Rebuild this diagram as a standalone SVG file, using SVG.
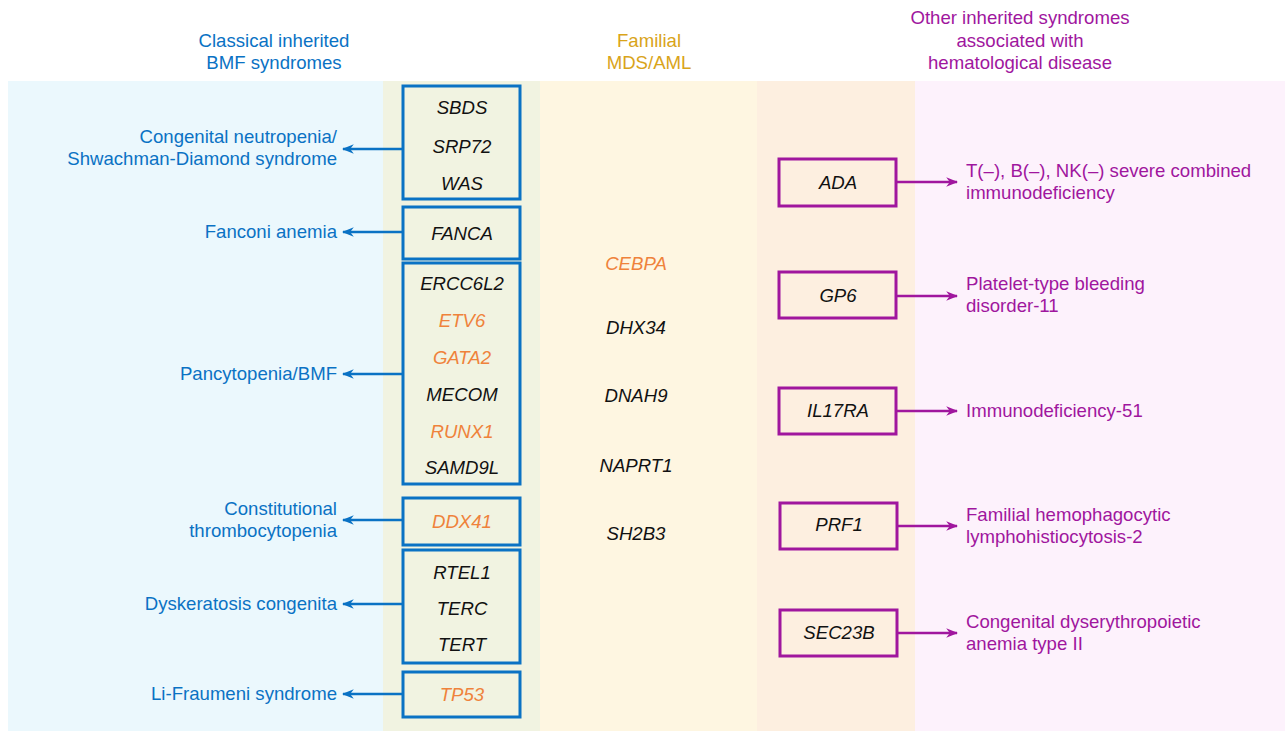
<svg xmlns="http://www.w3.org/2000/svg" width="1285" height="731" viewBox="0 0 1285 731">
<defs>
<style>
text{font-family:"Liberation Sans",Arial,Helvetica,sans-serif;font-size:18.6px}
.h{text-anchor:middle}
.blue{fill:#0a72c4}
.gold{fill:#d9a41a}
.pur{fill:#a0169e}
.gene{font-style:italic;text-anchor:middle;fill:#111}
.or{fill:#ef823b}
.bbox{fill:#f1f3e1;stroke:#0a72c4;stroke-width:3}
.pbox{fill:#fdefe0;stroke:#a0169e;stroke-width:3}
.bl{stroke:#0a72c4;stroke-width:2.5;fill:none}
.pl{stroke:#a0169e;stroke-width:2.5;fill:none}
</style>
<marker id="ab" viewBox="0 0 10 10" refX="9" refY="5" markerWidth="12" markerHeight="12" markerUnits="userSpaceOnUse" orient="auto">
<path d="M0,1 L10,5 L0,9 L3,5 Z" fill="#0a72c4"/>
</marker>
<marker id="ap" viewBox="0 0 10 10" refX="9" refY="5" markerWidth="12" markerHeight="12" markerUnits="userSpaceOnUse" orient="auto">
<path d="M0,1 L10,5 L0,9 L3,5 Z" fill="#a0169e"/>
</marker>
</defs>
<rect width="1285" height="731" fill="#fff"/>
<g id="bands">
<rect x="8" y="81" width="375" height="650" fill="#ebf8fd"/>
<rect x="383" y="81" width="157" height="650" fill="#f1f3e1"/>
<rect x="540" y="81" width="217" height="650" fill="#fef6e1"/>
<rect x="757" y="81" width="158" height="650" fill="#fdefe0"/>
<rect x="915" y="81" width="370" height="650" fill="#fdf2fc"/>
</g>
<g id="headers">
<text class="h blue" x="274" y="47">Classical inherited</text>
<text class="h blue" x="274" y="69">BMF syndromes</text>
<text class="h gold" x="649" y="47">Familial</text>
<text class="h gold" x="649" y="69">MDS/AML</text>
<text class="h pur" x="1020" y="24">Other inherited syndromes</text>
<text class="h pur" x="1020" y="47">associated with</text>
<text class="h pur" x="1020" y="69">hematological disease</text>
</g>
<g id="connectors">
<line class="bl" x1="403" y1="149" x2="343" y2="149" marker-end="url(#ab)"/>
<line class="bl" x1="403" y1="232" x2="343" y2="232" marker-end="url(#ab)"/>
<line class="bl" x1="403" y1="374" x2="343" y2="374" marker-end="url(#ab)"/>
<line class="bl" x1="403" y1="520" x2="343" y2="520" marker-end="url(#ab)"/>
<line class="bl" x1="403" y1="604" x2="343" y2="604" marker-end="url(#ab)"/>
<line class="bl" x1="403" y1="694" x2="343" y2="694" marker-end="url(#ab)"/>
<line class="pl" x1="897" y1="182" x2="957" y2="182" marker-end="url(#ap)"/>
<line class="pl" x1="897" y1="296" x2="957" y2="296" marker-end="url(#ap)"/>
<line class="pl" x1="897" y1="411" x2="957" y2="411" marker-end="url(#ap)"/>
<line class="pl" x1="897" y1="526" x2="957" y2="526" marker-end="url(#ap)"/>
<line class="pl" x1="897" y1="633" x2="957" y2="633" marker-end="url(#ap)"/>
</g>
<g id="left-labels" class="blue" text-anchor="end">
<text x="337" y="143">Congenital neutropenia/</text>
<text x="337" y="165">Shwachman-Diamond syndrome</text>
<text x="337" y="238">Fanconi anemia</text>
<text x="337" y="380">Pancytopenia/BMF</text>
<text x="337" y="515">Constitutional</text>
<text x="337" y="537">thrombocytopenia</text>
<text x="337" y="610">Dyskeratosis congenita</text>
<text x="337" y="700">Li-Fraumeni syndrome</text>
</g>
<g id="node-sbds">
<rect class="bbox" x="403" y="86" width="117" height="113"/>
<text class="gene" x="462" y="114">SBDS</text>
<text class="gene" x="462" y="153">SRP72</text>
<text class="gene" x="462" y="190">WAS</text>
</g>
<g id="node-fanca">
<rect class="bbox" x="403" y="207" width="117" height="52"/>
<text class="gene" x="462" y="240">FANCA</text>
</g>
<g id="node-bmf">
<rect class="bbox" x="403" y="263" width="117" height="221"/>
<text class="gene" x="462" y="290">ERCC6L2</text>
<text class="gene or" x="462" y="327">ETV6</text>
<text class="gene or" x="462" y="364">GATA2</text>
<text class="gene" x="462" y="401">MECOM</text>
<text class="gene or" x="462" y="438">RUNX1</text>
<text class="gene" x="462" y="474">SAMD9L</text>
</g>
<g id="node-ddx41">
<rect class="bbox" x="403" y="498" width="117" height="47"/>
<text class="gene or" x="462" y="528">DDX41</text>
</g>
<g id="node-dc">
<rect class="bbox" x="403" y="550" width="117" height="113"/>
<text class="gene" x="462" y="579">RTEL1</text>
<text class="gene" x="462" y="615">TERC</text>
<text class="gene" x="462" y="651">TERT</text>
</g>
<g id="node-tp53">
<rect class="bbox" x="403" y="672" width="117" height="45"/>
<text class="gene or" x="462" y="701">TP53</text>
</g>
<g id="familial">
<text class="gene or" x="636" y="270">CEBPA</text>
<text class="gene" x="636" y="334">DHX34</text>
<text class="gene" x="636" y="402">DNAH9</text>
<text class="gene" x="636" y="472">NAPRT1</text>
<text class="gene" x="636" y="540">SH2B3</text>
</g>
<g id="node-ada">
<rect class="pbox" x="779" y="159" width="117" height="47"/>
<text class="gene" x="838" y="189">ADA</text>
</g>
<g id="node-gp6">
<rect class="pbox" x="779" y="272" width="117" height="46"/>
<text class="gene" x="838" y="302">GP6</text>
</g>
<g id="node-il17ra">
<rect class="pbox" x="779" y="388" width="117" height="46"/>
<text class="gene" x="838" y="417">IL17RA</text>
</g>
<g id="node-prf1">
<rect class="pbox" x="780" y="503" width="117" height="46"/>
<text class="gene" x="839" y="531">PRF1</text>
</g>
<g id="node-sec23b">
<rect class="pbox" x="780" y="610" width="117" height="46"/>
<text class="gene" x="839" y="639">SEC23B</text>
</g>
<g id="right-labels" class="pur">
<text x="966" y="177">T(–), B(–), NK(–) severe combined</text>
<text x="966" y="199">immunodeficiency</text>
<text x="966" y="290">Platelet-type bleeding</text>
<text x="966" y="312">disorder-11</text>
<text x="966" y="417">Immunodeficiency-51</text>
<text x="966" y="521">Familial hemophagocytic</text>
<text x="966" y="543">lymphohistiocytosis-2</text>
<text x="966" y="628">Congenital dyserythropoietic</text>
<text x="966" y="650">anemia type II</text>
</g>
</svg>
